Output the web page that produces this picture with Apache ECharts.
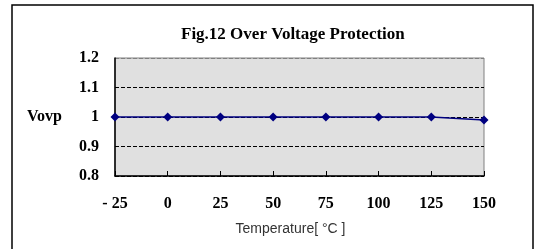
<!DOCTYPE html>
<html>
<head>
<meta charset="utf-8">
<script src="https://cdn.jsdelivr.net/npm/echarts@6/dist/echarts.min.js"></script>
<style>html,body{margin:0;padding:0;background:#fff}#c{width:538px;height:249px}</style>
</head>
<body>
<div id="c"></div>
<script>
var temperatures = [-25, 0, 25, 50, 75, 100, 125, 150];
var vovp = [1, 1, 1, 1, 1, 1, 1, 0.99];
var titleText = 'Fig.12 Over Voltage Protection';
var yName = 'Vovp';
var xName = 'Temperature[ \u00B0C ]';

var serif = '"Liberation Serif", "Times New Roman", serif';
var chart = echarts.init(document.getElementById('c'), null, {renderer: 'canvas'});
chart.setOption({
  animation: false,
  backgroundColor: '#fff',
  title: {
    text: titleText,
    left: 176, top: 21,
    textStyle: {fontFamily: serif, fontSize: 17, fontWeight: 'bold', color: '#000'}
  },
  graphic: [
    {type: 'rect', shape: {x: 12, y: 5, width: 521, height: 260}, style: {fill: 'none', stroke: '#000', lineWidth: 1.5}, z: 100},
    {type: 'text', left: 27, top: 109, style: {text: yName, font: 'bold 16px ' + serif, fill: '#000'}}
  ],
  grid: {left: 115, right: 54, top: 58, bottom: 73, show: true, backgroundColor: '#e0e0e0', borderColor: '#808080', borderWidth: 1},
  xAxis: {
    type: 'value', min: -25, max: 150, interval: 25,
    name: xName, nameLocation: 'middle', nameGap: 46,
    nameTextStyle: {fontFamily: '"Liberation Sans", Arial, sans-serif', fontSize: 14, color: '#333', padding: [0, 18, 0, 0]},
    axisLine: {onZero: false, lineStyle: {color: '#000', width: 1.5}},
    axisTick: {show: true, inside: true, length: 5, lineStyle: {color: '#000', width: 1}},
    axisLabel: {margin: 20, fontFamily: serif, fontSize: 16, fontWeight: 'bold', color: '#000',
      formatter: function (v) { return v < 0 ? '- ' + Math.abs(v) : String(v); }},
    splitLine: {show: false}
  },
  yAxis: {
    type: 'value', min: 0.8, max: 1.2, interval: 0.1,
    axisLine: {show: true, onZero: false, lineStyle: {color: '#000', width: 1.5}},
    axisTick: {show: false},
    axisLabel: {margin: 16, fontFamily: serif, fontSize: 16, fontWeight: 'bold', color: '#000',
      formatter: function (v) { return String(Math.round(v * 10) / 10); }},
    splitLine: {show: true, lineStyle: {color: ['#000', '#000', '#000', '#000', '#808080'], type: 'dashed', width: 1}}
  },
  series: [{
    type: 'line',
    data: temperatures.map(function (t, i) { return [t, vovp[i]]; }),
    symbol: 'diamond', symbolSize: 9,
    lineStyle: {color: '#000080', width: 1.5},
    itemStyle: {color: '#000080'}
  }]
});
</script>
</body>
</html>
